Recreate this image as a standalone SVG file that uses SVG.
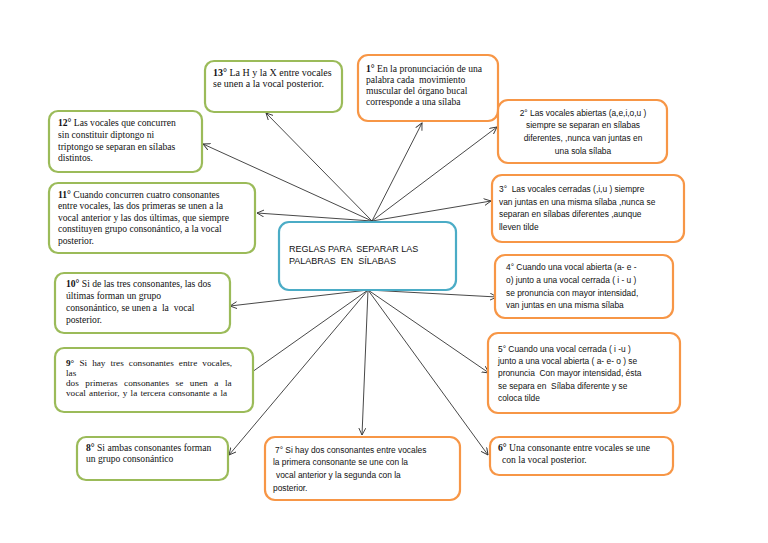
<svg xmlns="http://www.w3.org/2000/svg" width="768" height="543" viewBox="0 0 768 543">
<defs>
<marker id="ah" markerWidth="8" markerHeight="8" refX="7" refY="4" orient="auto" markerUnits="userSpaceOnUse">
<path d="M0,0.5 L7,4 L0,7.5" fill="none" stroke="#333" stroke-width="0.9"/>
</marker>
<style>
.g{fill:#fff;stroke:#9bbb59;stroke-width:2.2}
.o{fill:#fff;stroke:#f79646;stroke-width:2.2}
.b{fill:#fff;stroke:#4bacc6;stroke-width:2.2}
.s{font-family:"Liberation Serif","Times New Roman",serif;font-size:9.6px;fill:#111;white-space:pre}
.c{font-family:"Liberation Sans",Arial,sans-serif;font-size:8.4px;fill:#111;white-space:pre}
.n{font-weight:bold}
.e line{stroke:#333;stroke-width:0.9;marker-end:url(#ah)}
</style>
</defs>
<rect width="768" height="543" fill="#fff"/>
<g class="e" id="connectors">
<line x1="372" y1="221" x2="266" y2="113"/>
<line x1="372" y1="221" x2="422" y2="123"/>
<line x1="372" y1="221" x2="497" y2="127"/>
<line x1="372" y1="221" x2="203" y2="144"/>
<line x1="372" y1="221" x2="257" y2="213"/>
<line x1="372" y1="221" x2="491" y2="201"/>
<line x1="368" y1="290" x2="230" y2="306"/>
<line x1="368" y1="290" x2="245" y2="377"/>
<line x1="368" y1="290" x2="229" y2="455"/>
<line x1="368" y1="290" x2="362" y2="435"/>
<line x1="368" y1="290" x2="488" y2="455"/>
<line x1="368" y1="290" x2="489" y2="373"/>
<line x1="368" y1="290" x2="497" y2="297"/>
</g>
<g id="center">
<rect class="b" x="279" y="222" width="177" height="68" rx="10"/>
<text class="c" x="289" y="251.5" style="font-size:9px" xml:space="preserve">REGLAS PARA  SEPARAR LAS</text>
<text class="c" x="289" y="264" style="font-size:9px" xml:space="preserve">PALABRAS  EN  SÍLABAS</text>
</g>
<g id="n13">
<rect class="g" x="205" y="61" width="137" height="51" rx="9"/>
<text class="s" x="213" y="76" style="font-size:10px"><tspan class="n">13°</tspan> La H y la X entre vocales</text>
<text class="s" x="213" y="87" style="font-size:10px">se unen a la vocal posterior.</text>
</g>
<g id="n1">
<rect class="o" x="358" y="55" width="140" height="66" rx="10"/>
<text class="s" x="366" y="72"><tspan class="n">1°</tspan> En la pronunciación de una</text>
<text class="s" x="366" y="83" xml:space="preserve">palabra cada  movimiento</text>
<text class="s" x="366" y="94">muscular del órgano bucal</text>
<text class="s" x="366" y="105">corresponde a una sílaba</text>
</g>
<g id="n2">
<rect class="o" x="498" y="100" width="169" height="63" rx="10"/>
<text class="c" x="583" y="116" text-anchor="middle">2° Las vocales abiertas (a,e,i,o,u )</text>
<text class="c" x="583" y="128" text-anchor="middle">siempre se separan en sílabas</text>
<text class="c" x="583" y="141" text-anchor="middle">diferentes, ,nunca van juntas en</text>
<text class="c" x="583" y="154" text-anchor="middle">una sola sílaba</text>
</g>
<g id="n3">
<rect class="o" x="492" y="175" width="192" height="67" rx="10"/>
<text class="c" x="499" y="192" xml:space="preserve">3°  Las vocales cerradas (,i,u ) siempre</text>
<text class="c" x="499" y="205">van juntas en una misma sílaba ,nunca se</text>
<text class="c" x="499" y="217">separan en sílabas diferentes ,aunque</text>
<text class="c" x="499" y="230">lleven tilde</text>
</g>
<g id="n4">
<rect class="o" x="495" y="255" width="178" height="63" rx="10"/>
<text class="c" x="506" y="270">4° Cuando una vocal abierta (a- e -</text>
<text class="c" x="506" y="283">o) junto a una vocal cerrada ( i - u )</text>
<text class="c" x="506" y="296">se pronuncia con mayor intensidad,</text>
<text class="c" x="506" y="308">van juntas en una misma sílaba</text>
</g>
<g id="n5">
<rect class="o" x="488" y="333" width="192" height="80" rx="10"/>
<text class="c" x="498" y="352">5° Cuando una vocal cerrada ( i -u )</text>
<text class="c" x="498" y="364">junto a una vocal abierta ( a- e- o ) se</text>
<text class="c" x="498" y="376" xml:space="preserve">pronuncia  Con mayor intensidad, ésta</text>
<text class="c" x="498" y="389" xml:space="preserve">se separa en  Sílaba diferente y se</text>
<text class="c" x="498" y="401">coloca tilde</text>
</g>
<g id="n6">
<rect class="o" x="490" y="437" width="183" height="38" rx="9"/>
<text class="s" x="498" y="451"><tspan class="n">6°</tspan> Una consonante entre vocales se une</text>
<text class="s" x="502" y="463">con la vocal posterior.</text>
</g>
<g id="n7">
<rect class="o" x="265" y="437" width="195" height="63" rx="10"/>
<text class="c" x="275" y="453">7° Si hay dos consonantes entre vocales</text>
<text class="c" x="273" y="465">la primera consonante se une con la</text>
<text class="c" x="276" y="478">vocal anterior y la segunda con la</text>
<text class="c" x="273" y="491">posterior.</text>
</g>
<g id="n8">
<rect class="g" x="77" y="437" width="151" height="43" rx="9"/>
<text class="s" x="86" y="451"><tspan class="n">8°</tspan> Si ambas consonantes forman</text>
<text class="s" x="86" y="462">un grupo consonántico</text>
</g>
<g id="n9">
<rect class="g" x="55" y="348" width="198" height="64" rx="9"/>
<text class="s" x="66" y="365.5" style="font-size:9.2px;word-spacing:2.8px"><tspan class="n">9°</tspan> Si hay tres consonantes entre vocales,</text>
<text class="s" x="66" y="375.5" style="font-size:9.2px">las</text>
<text class="s" x="66" y="386" style="font-size:9.2px;word-spacing:4.3px">dos primeras consonantes se unen a la</text>
<text class="s" x="66" y="396" style="font-size:9.2px;word-spacing:0.9px">vocal anterior, y la tercera consonante a la</text>
</g>
<g id="n10">
<rect class="g" x="55" y="273" width="175" height="60" rx="9"/>
<text class="s" x="66" y="287"><tspan class="n">10°</tspan> Si de las tres consonantes, las dos</text>
<text class="s" x="66" y="299">últimas forman un grupo</text>
<text class="s" x="66" y="311" xml:space="preserve">consonántico, se unen a  la  vocal</text>
<text class="s" x="66" y="323">posterior.</text>
</g>
<g id="n11">
<rect class="g" x="49" y="183" width="206" height="70" rx="9"/>
<text class="s" x="58" y="198"><tspan class="n">11°</tspan> Cuando concurren cuatro consonantes</text>
<text class="s" x="58" y="209">entre vocales, las dos primeras se unen a la</text>
<text class="s" x="58" y="221">vocal anterior y las dos últimas, que siempre</text>
<text class="s" x="58" y="232">constituyen grupo consonántico, a la vocal</text>
<text class="s" x="58" y="244">posterior.</text>
</g>
<g id="n12">
<rect class="g" x="49" y="111" width="153" height="61" rx="9"/>
<text class="s" x="58" y="126"><tspan class="n">12°</tspan> Las vocales que concurren</text>
<text class="s" x="58" y="138">sin constituir diptongo ni</text>
<text class="s" x="58" y="150">triptongo se separan en sílabas</text>
<text class="s" x="58" y="161">distintos.</text>
</g>
</svg>
